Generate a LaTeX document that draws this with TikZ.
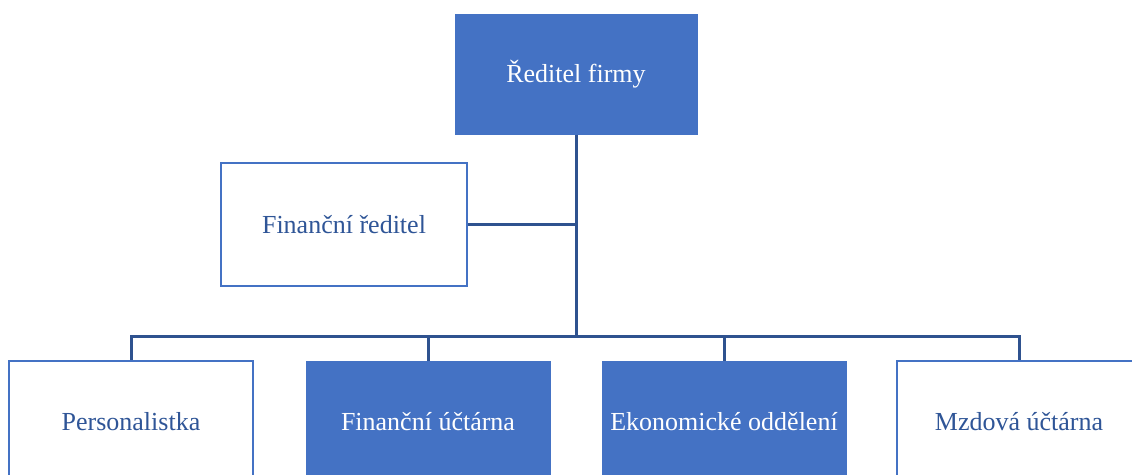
\documentclass[tikz,border=0pt]{standalone}
\usepackage{fontspec}
\setmainfont{Liberation Serif}
\definecolor{fillblue}{HTML}{4472C4}
\definecolor{linedark}{HTML}{2F528F}
\definecolor{textblue}{HTML}{2F5597}
\begin{document}
\begin{tikzpicture}[x=1pt,y=-1pt,
  box/.style={rectangle, minimum width=244pt, minimum height=122pt, inner sep=0pt, font=\fontsize{26}{30}\selectfont},
  filled/.style={box, fill=fillblue, draw=fillblue, line width=1pt, text=white},
  outlined/.style={box, fill=white, draw=fillblue, line width=2.6pt, text=textblue},
  conn/.style={draw=linedark, line width=3pt}]
\useasboundingbox (0,0) rectangle (1132,474);
\clip (0,0) rectangle (1132,474);
\node[filled, minimum width=242pt, minimum height=120pt] (top) at (576,74) {Ředitel firmy};
\node[outlined, minimum width=246pt, minimum height=123pt] (fin) at (344,224.5) {Finanční ředitel};
\coordinate (bus) at (576,336);
\draw[conn] (top.south) -- (bus);
\draw[conn] (fin.east) -- (fin.east -| bus);
\node[outlined] (b1) at (131,422) {Personalistka};
\node[filled] (b2) at (428,422) {Finanční účtárna};
\node[filled] (b3) at (724,422) {Ekonomické oddělení};
\node[outlined] (b4) at (1019,422) {Mzdová účtárna};
\draw[conn] (b1.north) |- (b4.north |- bus) -- (b4.north);
\draw[conn] (b2.north) -- (b2.north |- bus);
\draw[conn] (b3.north) -- (b3.north |- bus);
\end{tikzpicture}
\end{document}
